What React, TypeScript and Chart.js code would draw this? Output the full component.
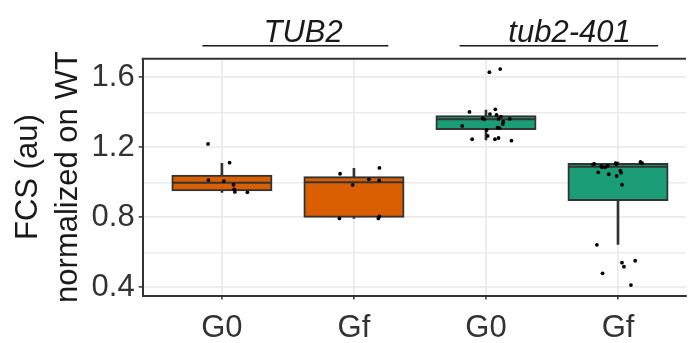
import React, { useEffect, useRef } from "react";
import { Chart, registerables } from "chart.js";

Chart.register(...registerables);

// ---- data ----
const categories = ["G0", "Gf", "G0", "Gf"];
const categoryPositions = [1, 2, 3, 4];
const boxColors = ["#D95F02", "#D95F02", "#1B9E77", "#1B9E77"];

const q1 = [0.954, 0.803, 1.305, 0.899];
const medians = [0.998, 1.0, 1.36, 1.089];
const q3 = [1.038, 1.029, 1.377, 1.105];
const whiskerLow = [0.943, 0.794, 1.242, 0.646];
const whiskerHigh = [1.109, 1.08, 1.413, 1.116];

// jittered observations (x = category position + jitter offset)
const tub2G0Y = [1.219, 1.112, 1.013, 1.007, 0.986, 0.96, 0.945, 0.943];
const tub2G0X = [-0.105, 0.058, -0.102, 0.015, 0.088, 0.093, 0.098, 0.193];
const tub2GfY = [1.049, 0.985, 1.017, 1.011, 1.082, 0.794, 0.794, 0.806];
const tub2GfX = [-0.105, -0.01, 0.113, 0.191, 0.193, -0.11, 0.185, 0.193];
const t401G0Y = [1.629, 1.647, 1.402, 1.417, 1.39, 1.385, 1.366, 1.36, 1.375, 1.362, 1.346, 1.333, 1.362, 1.322, 1.312, 1.31, 1.299, 1.265, 1.246, 1.246, 1.253, 1.238];
const t401G0X = [0.026, 0.108, -0.125, 0.071, 0.03, 0.08, -0.025, -0.012, 0.113, 0.095, 0.131, 0.128, 0.18, -0.18, 0.088, 0.103, 0.005, 0.013, -0.105, 0.068, 0.095, 0.193];
const t401GfY = [0.643, 0.48, 0.541, 0.518, 0.552, 0.413, 1.103, 1.105, 1.093, 1.086, 1.086, 1.095, 1.109, 1.103, 1.116, 1.109, 1.057, 1.046, 1.036, 1.066, 1.055, 0.986];
const t401GfX = [-0.16, -0.117, 0.03, 0.045, 0.13, 0.098, -0.19, -0.18, -0.127, -0.122, -0.097, -0.077, -0.017, -0.012, 0.17, 0.183, -0.15, -0.07, -0.01, 0.018, 0.023, 0.03];
const pointsY = [tub2G0Y, tub2GfY, t401G0Y, t401GfY];
const pointsX = [tub2G0X, tub2GfX, t401G0X, t401GfX];

const yTickValues = [0.4, 0.6, 0.8, 1.0, 1.2, 1.4, 1.6];
const yMajorTicks = [0.4, 0.8, 1.2, 1.6];
const yMin = 0.353;
const yMax = 1.706;
const xMin = 0.4;
const xMax = 4.515;

const groupLabels = ["TUB2", "tub2-401"];
const groupLabelX = [1.615, 3.633];
const groupLineStart = [0.852, 2.8];
const groupLineEnd = [2.26, 4.304];
const groupLabelY = 1.803;
const groupLineY = 1.78;

const FONT = "'Liberation Sans', Arial, Helvetica, sans-serif";
const isMajor = (v: number) => yMajorTicks.some((m) => Math.abs(m - v) < 1e-6);

export default function App() {
  const ref = useRef<HTMLCanvasElement | null>(null);

  useEffect(() => {
    document.body.style.margin = "0";
    const canvas = ref.current;
    if (!canvas) return;

    const scatterData: { x: number; y: number }[] = [];
    pointsY.forEach((ys, g) => {
      ys.forEach((y, i) => scatterData.push({ x: categoryPositions[g] + pointsX[g][i], y }));
    });

    const overlayPlugin = {
      id: "boxOverlay",
      afterDatasetDraw(chart: any, args: any) {
        if (args.index !== 1) return;
        const ctx = chart.ctx;
        const meta = chart.getDatasetMeta(1);
        const ys = chart.scales.y;
        ctx.save();
        ctx.strokeStyle = "#333333";
        ctx.lineWidth = 2;
        meta.data.forEach((bar: any, i: number) => {
          const py = ys.getPixelForValue(medians[i]);
          ctx.beginPath();
          ctx.moveTo(bar.x - bar.width / 2, py);
          ctx.lineTo(bar.x + bar.width / 2, py);
          ctx.stroke();
        });
        ctx.restore();
      },
      afterDraw(chart: any) {
        const ctx = chart.ctx;
        const area = chart.chartArea;
        const xs = chart.scales.x;
        const ys = chart.scales.y;
        ctx.save();
        // top panel border
        ctx.strokeStyle = "#333333";
        ctx.lineWidth = 2;
        ctx.beginPath();
        ctx.moveTo(area.left - 1, area.top);
        ctx.lineTo(area.right, area.top);
        ctx.stroke();
        // group annotations
        ctx.lineWidth = 1.6;
        ctx.strokeStyle = "#1a1a1a";
        ctx.fillStyle = "#1a1a1a";
        ctx.font = `italic 31px ${FONT}`;
        ctx.textAlign = "center";
        ctx.textBaseline = "alphabetic";
        groupLabels.forEach((lab, i) => {
          const ly = ys.getPixelForValue(groupLineY);
          ctx.beginPath();
          ctx.moveTo(xs.getPixelForValue(groupLineStart[i]), ly);
          ctx.lineTo(xs.getPixelForValue(groupLineEnd[i]), ly);
          ctx.stroke();
          ctx.fillText(lab, xs.getPixelForValue(groupLabelX[i]), ys.getPixelForValue(groupLabelY));
        });
        ctx.restore();
      },
    };

    const chart = new Chart(canvas, {
      type: "bar",
      data: {
        datasets: [
          {
            type: "scatter",
            label: "obs",
            data: scatterData,
            backgroundColor: "#000000",
            borderWidth: 0,
            pointRadius: 1.9,
            order: 0,
          } as any,
          {
            label: "box",
            data: categoryPositions.map((x, i) => ({ x, y: [q1[i], q3[i]] })),
            backgroundColor: boxColors,
            borderColor: "#333333",
            borderWidth: 2,
            inflateAmount: 1,
            borderSkipped: false,
            grouped: false,
            categoryPercentage: 1,
            barPercentage: 0.75,
            order: 1,
          } as any,
          {
            label: "whisker",
            data: categoryPositions.map((x, i) => ({ x, y: [whiskerLow[i], whiskerHigh[i]] })),
            backgroundColor: "#333333",
            borderWidth: 0,
            grouped: false,
            categoryPercentage: 1,
            barPercentage: 1,
            maxBarThickness: 2,
            order: 2,
          } as any,
        ],
      },
      options: {
        responsive: false,
        animation: false,
        events: [],
        layout: { padding: { top: 58.7, right: 0, left: 0, bottom: 0 } },
        plugins: { legend: { display: false }, tooltip: { enabled: false } },
        scales: {
          x: {
            type: "linear",
            min: xMin,
            max: xMax,
            offset: false,
            afterBuildTicks: (scale: any) => {
              scale.ticks = categoryPositions.map((v) => ({ value: v }));
            },
            afterFit: (scale: any) => {
              scale.height = 343 - 295.6;
            },
            grid: {
              offset: false,
              color: "#ebebeb",
              lineWidth: 1.8,
              tickColor: "#333333",
              tickLength: 4,
              tickWidth: 1.5,
            },
            border: { color: "#333333", width: 2 },
            ticks: {
              autoSkip: false,
              maxRotation: 0,
              padding: 10,
              color: "#333333",
              font: { family: FONT, size: 31 },
              callback: (_v: any, i: number) => categories[i],
            },
          },
          y: {
            type: "linear",
            min: yMin,
            max: yMax,
            afterBuildTicks: (scale: any) => {
              scale.ticks = yTickValues.map((v) => ({ value: v }));
            },
            afterFit: (scale: any) => {
              scale.width = 142.7;
            },
            grid: {
              color: "#ebebeb",
              lineWidth: (c: any) => (isMajor(c.tick?.value ?? 0) ? 1.8 : 1.4),
              tickColor: (c: any) => (isMajor(c.tick?.value ?? 0) ? "#333333" : "rgba(0,0,0,0)"),
              tickLength: 4,
              tickWidth: 1.5,
            },
            border: { color: "#333333", width: 2 },
            ticks: {
              autoSkip: false,
              padding: 4,
              color: "#333333",
              font: { family: FONT, size: 31 },
              callback: (v: any) => (isMajor(Number(v)) ? Number(v).toFixed(1) : ""),
            },
            title: {
              display: true,
              text: ["FCS (au)", "normalized on WT"],
              color: "#1a1a1a",
              font: { family: FONT, size: 31, lineHeight: 1.29 },
              padding: { top: 8, bottom: 0 },
            },
          },
        },
      },
      plugins: [overlayPlugin],
    });

    return () => chart.destroy();
  }, []);

  return (
    <div style={{ position: "fixed", left: 0, top: 0, width: 690, height: 343, background: "#ffffff" }}>
      <canvas ref={ref} width={690} height={343} style={{ display: "block", width: 690, height: 343 }} />
    </div>
  );
}
